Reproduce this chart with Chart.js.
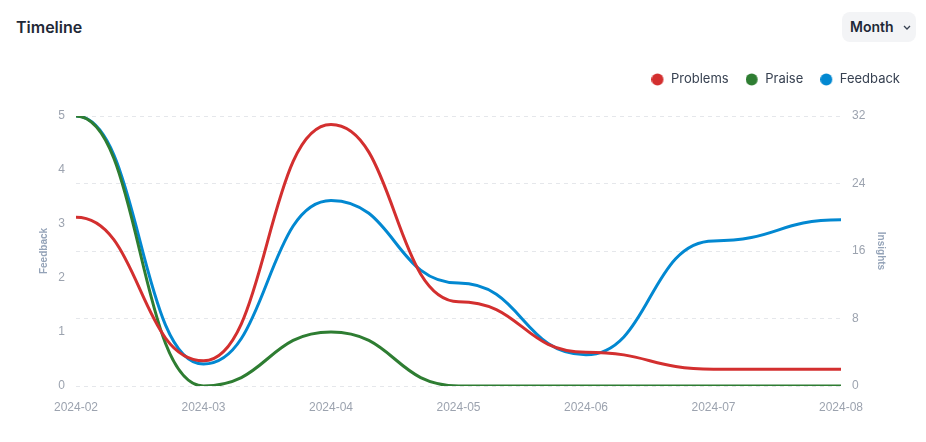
<!DOCTYPE html>
<html>
<head>
<meta charset="utf-8">
<script src="https://cdn.jsdelivr.net/npm/chart.js@4.4.1/dist/chart.umd.min.js"></script>
<style>
  html, body { margin: 0; padding: 0; background: #fff; }
  body { width: 926px; height: 442px; position: relative; overflow: hidden; font-family: Inter, "Noto Sans", sans-serif; }
  .title { position: absolute; left: 16px; top: 17px; font-size: 16px; font-weight: 600; color: #1f2937; }
  .btn { position: absolute; left: 842px; top: 12px; width: 74px; height: 30px; background: #f3f4f6; border-radius: 8px;
         font-size: 14px; font-weight: 600; color: #1f2937; box-sizing: border-box; padding-left: 8px; line-height: 30px; }
  .btn svg { position: absolute; left: 61px; top: 13px; }
  #wrap { position: absolute; left: 0; top: 45px; width: 926px; height: 371px; }
</style>
</head>
<body>
<div class="title">Timeline</div>
<div class="btn">Month<svg width="8" height="5" viewBox="0 0 8 5"><path d="M1 1 L4 4 L7 1" fill="none" stroke="#374151" stroke-width="1.3"/></svg></div>
<div id="wrap"><canvas id="chartTimeline"></canvas></div>
<script>
// mesi sull'asse x
const months = ['2024-02', '2024-03', '2024-04', '2024-05', '2024-06', '2024-07', '2024-08'];

// valori
const problems = [20, 3, 31, 10, 4, 2, 2];             // asse destro (Insights)
const praise = [5, 0, 1, 0, 0, 0, 0];                  // asse sinistro (Feedback)
const feedback = [32, 2.6, 22, 12.2, 3.7, 17.2, 19.7]; // asse destro

const leftTicks = [0, 1, 2, 3, 4, 5];
const rightTicks = [0, 8, 16, 24, 32];

const tickColor = '#9ca3af';
const titleColor = '#94a3b8';

// pallino della legenda, spostato a sinistra nel box
function dot(color) {
    const c = document.createElement('canvas');
    c.width = 13;
    c.height = 13;
    const g = c.getContext('2d');
    g.fillStyle = color;
    g.beginPath();
    g.arc(6, 6.5, 6, 0, Math.PI * 2);
    g.fill();
    return c;
}

// spazio extra sotto la legenda
const legendGap = {
    id: 'legendGap',
    beforeInit(chart) {
        const fit = chart.legend.fit;
        chart.legend.fit = function () {
            fit.bind(chart.legend)();
            this.height += 20;
        };
    }
};

// curva "bump": tangente orizzontale su ogni punto
const bumpCurve = {
    id: 'bumpCurve',
    beforeDatasetDraw(chart, args) {
        const meta = args.meta;
        meta.dataset.updateControlPoints(chart.chartArea, 'x');
        const pts = meta.data;
        pts.forEach((p, i) => {
            const prev = pts[i - 1], next = pts[i + 1];
            p.cp1x = prev ? (prev.x + p.x) / 2 : p.x;
            p.cp1y = p.y;
            p.cp2x = next ? (next.x + p.x) / 2 : p.x;
            p.cp2y = p.y;
        });
    }
};

function line(label, data, color, axis) {
    return {
        label,
        data,
        yAxisID: axis,
        borderColor: color,
        backgroundColor: color,
        borderWidth: 3,
        pointRadius: 0,
        pointHoverRadius: 0,
        pointStyle: dot(color),
        fill: false,
        tension: 0.4
    };
}

const ctx = document.getElementById('chartTimeline').getContext('2d');
new Chart(ctx, {
    type: 'line',
    data: {
        labels: months,
        datasets: [
            line('Problems', problems, '#d32f2f', 'y1'),
            line('Praise', praise, '#2e7d32', 'y'),
            line('Feedback', feedback, '#0288d1', 'y1')
        ]
    },
    options: {
        responsive: true,
        maintainAspectRatio: false,
        animation: false,
        layout: { padding: { left: 30, right: 9, top: 11, bottom: 0 } },
        plugins: {
            legend: {
                display: true,
                align: 'end',
                labels: {
                    usePointStyle: true,
                    boxWidth: 13,
                    boxHeight: 13,
                    padding: 17,
                    color: '#374151',
                    font: { family: 'Inter', size: 13 }
                }
            },
            tooltip: { enabled: false }
        },
        scales: {
            x: {
                grid: { display: false, drawTicks: false },
                border: { display: false },
                ticks: { color: tickColor, padding: 14, font: { family: 'Liberation Sans', size: 12 }, maxRotation: 0 },
                afterFit(s) { s.height = 30; }
            },
            y: {
                position: 'left',
                min: 0,
                max: 5,
                grid: { display: false, drawTicks: false },
                border: { display: false },
                afterBuildTicks(s) { s.ticks = leftTicks.map(v => ({ value: v })); },
                ticks: { color: tickColor, padding: 11, font: { family: 'Liberation Sans', size: 12 } },
                title: { display: true, text: 'Feedback', color: titleColor, padding: { top: 8, bottom: 0 }, font: { family: 'Liberation Sans', size: 10, weight: 'bold' } },
                afterFit(s) { s.width = 46; }
            },
            y1: {
                position: 'right',
                min: 0,
                max: 32,
                grid: { display: true, drawTicks: false, color: '#e5e7eb', lineWidth: 1 },
                border: { display: false, dash: [4, 4] },
                afterBuildTicks(s) { s.ticks = rightTicks.map(v => ({ value: v })); },
                ticks: { color: tickColor, padding: 11, font: { family: 'Liberation Sans', size: 12 } },
                title: { display: true, text: 'Insights', color: titleColor, padding: { top: 30, bottom: 0 }, font: { family: 'Liberation Sans', size: 10, weight: 'bold' } },
                afterFit(s) { s.width = 76; }
            }
        }
    },
    plugins: [legendGap, bumpCurve]
});
</script>
</body>
</html>
